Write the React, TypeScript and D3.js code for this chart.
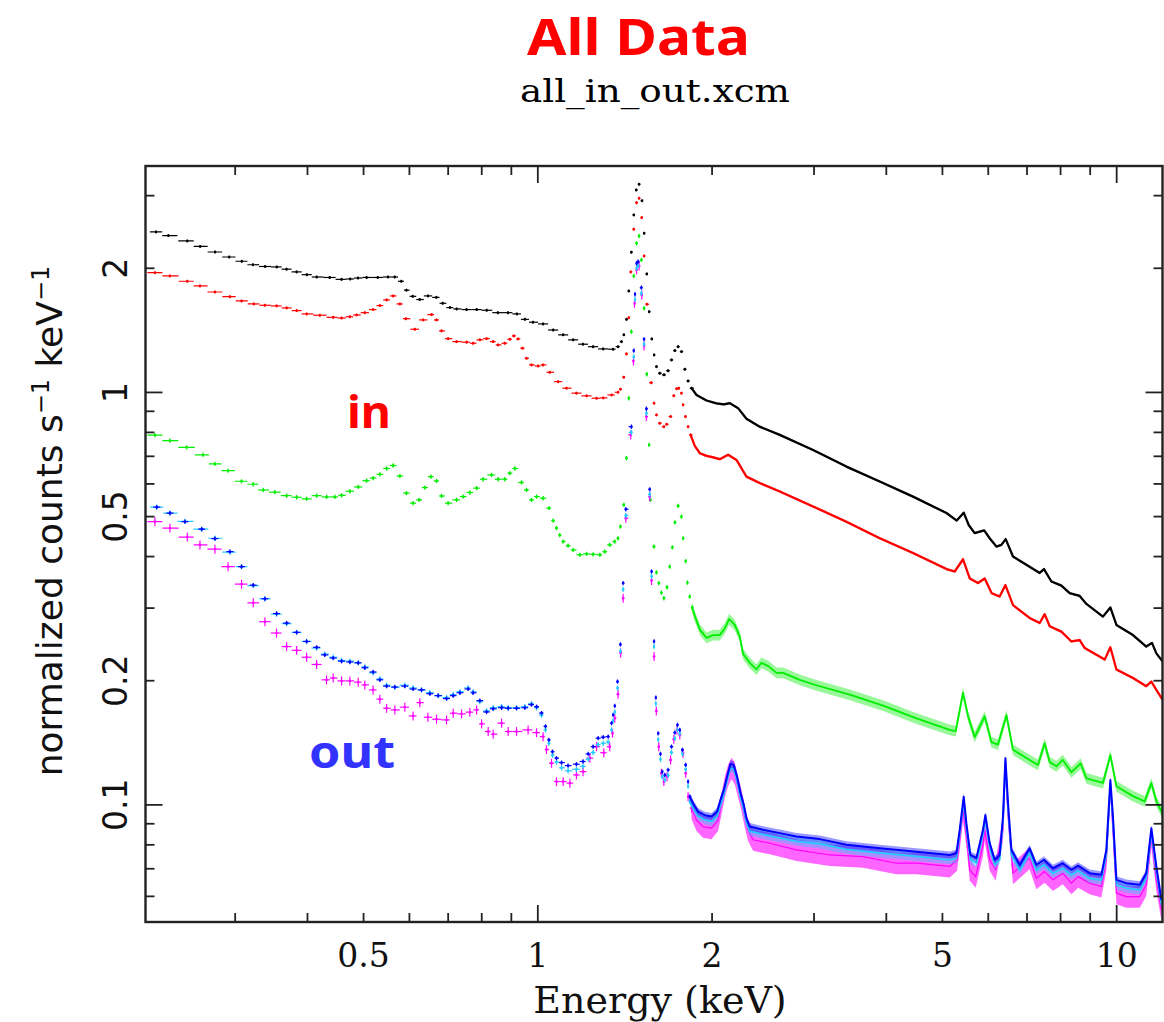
import React from "react";
import * as d3 from "d3";

type Pt = [number, number];

// ---------- data: [energy keV, normalized counts s^-1 keV^-1] ----------
const blackData: Pt[] = [
  [0.219, 2.45], [0.23, 2.4], [0.248, 2.33], [0.261, 2.26], [0.277, 2.19], [0.293, 2.13], [0.308, 2.08],
  [0.322, 2.04], [0.338, 2.02], [0.354, 2.015], [0.368, 1.99], [0.383, 1.96], [0.399, 1.93], [0.415, 1.905],
  [0.437, 1.9], [0.458, 1.88], [0.474, 1.884], [0.489, 1.894], [0.506, 1.9], [0.529, 1.9], [0.551, 1.905],
  [0.566, 1.905], [0.581, 1.86], [0.593, 1.77], [0.608, 1.71], [0.625, 1.68], [0.646, 1.714], [0.668, 1.7],
  [0.685, 1.645], [0.705, 1.606], [0.724, 1.594], [0.753, 1.588], [0.784, 1.588], [0.816, 1.582], [0.853, 1.561],
  [0.888, 1.561], [0.92, 1.55], [0.95, 1.504], [0.981, 1.48], [1.021, 1.466], [1.063, 1.417], [1.106, 1.379],
  [1.151, 1.341], [1.197, 1.309], [1.246, 1.291], [1.297, 1.275], [1.349, 1.273], [1.376, 1.291], [1.395, 1.328],
  [1.408, 1.379], [1.423, 1.504], [1.436, 1.762], [1.451, 2.188], [1.465, 2.694], [1.479, 3.097], [1.496, 3.197],
  [1.514, 2.917], [1.526, 2.432], [1.543, 1.938], [1.557, 1.57], [1.574, 1.348], [1.588, 1.233], [1.603, 1.155],
  [1.624, 1.113], [1.652, 1.103], [1.679, 1.129], [1.702, 1.199], [1.725, 1.263], [1.747, 1.291], [1.771, 1.256],
  [1.795, 1.138], [1.818, 1.066], [1.843, 1.024], [1.88, 0.986], [1.956, 0.956], [2.035, 0.941], [2.096, 0.935],
  [2.146, 0.942], [2.218, 0.916], [2.293, 0.863], [2.417, 0.826], [2.618, 0.789], [2.989, 0.725], [3.413, 0.661],
  [3.897, 0.608], [4.448, 0.559], [5.081, 0.51], [5.293, 0.489], [5.442, 0.511], [5.551, 0.477], [5.684, 0.456],
  [5.904, 0.463], [6.034, 0.443], [6.197, 0.423], [6.322, 0.427], [6.431, 0.441], [6.621, 0.4], [6.982, 0.382],
  [7.362, 0.365], [7.489, 0.373], [7.714, 0.348], [8.027, 0.34], [8.294, 0.326], [8.633, 0.321], [8.866, 0.307],
  [9.469, 0.286], [9.752, 0.301], [9.99, 0.273], [10.67, 0.258], [11.25, 0.242], [11.51, 0.247], [11.71, 0.233],
  [12.0, 0.223],
];

const redData: Pt[] = [
  [0.218, 1.951], [0.2314, 1.916], [0.248, 1.86], [0.2608, 1.812], [0.2768, 1.752], [0.2938, 1.707], [0.3077, 1.667],
  [0.3232, 1.639], [0.3377, 1.627], [0.3537, 1.621], [0.3681, 1.603], [0.3831, 1.579], [0.3986, 1.55], [0.4202, 1.539],
  [0.4431, 1.521], [0.4581, 1.515], [0.4735, 1.526], [0.4863, 1.541], [0.5024, 1.561], [0.5193, 1.588], [0.5334, 1.624],
  [0.5479, 1.676], [0.5624, 1.714], [0.5776, 1.639], [0.5916, 1.509], [0.6132, 1.423], [0.6337, 1.499], [0.6552, 1.544],
  [0.6683, 1.499], [0.6818, 1.41], [0.7, 1.35], [0.7238, 1.328], [0.7532, 1.324], [0.7731, 1.316], [0.794, 1.341],
  [0.8155, 1.35], [0.8374, 1.328], [0.854, 1.304], [0.877, 1.316], [0.8947, 1.346], [0.909, 1.371], [0.9245, 1.348],
  [0.941, 1.28], [0.9561, 1.21], [0.9752, 1.166], [1.001, 1.159], [1.021, 1.166], [1.049, 1.119], [1.084, 1.062],
  [1.121, 1.024], [1.166, 0.996], [1.214, 0.981], [1.263, 0.968], [1.297, 0.97], [1.341, 0.986], [1.376, 1.001],
  [1.389, 1.018], [1.408, 1.089], [1.423, 1.24], [1.436, 1.518], [1.447, 1.96], [1.465, 2.487], [1.481, 2.885],
  [1.496, 2.956], [1.512, 2.654], [1.526, 2.142], [1.543, 1.636], [1.571, 1.056], [1.588, 0.942], [1.603, 0.882],
  [1.624, 0.842], [1.651, 0.826], [1.669, 0.837], [1.696, 0.874], [1.718, 0.982], [1.737, 1.021], [1.752, 1.024],
  [1.771, 0.996], [1.782, 0.933], [1.799, 0.874], [1.818, 0.826], [1.836, 0.789], [1.867, 0.742], [1.905, 0.712],
  [1.956, 0.702], [2.009, 0.696], [2.062, 0.689], [2.132, 0.706], [2.204, 0.686], [2.293, 0.625], [2.417, 0.603],
  [2.618, 0.575], [2.989, 0.529], [3.413, 0.486], [3.897, 0.443], [4.448, 0.408], [5.081, 0.373], [5.251, 0.368],
  [5.427, 0.394], [5.574, 0.354], [5.76, 0.345], [5.916, 0.354], [6.083, 0.326], [6.279, 0.32], [6.424, 0.341],
  [6.621, 0.305], [7.073, 0.284], [7.362, 0.276], [7.51, 0.29], [7.661, 0.271], [8.027, 0.263], [8.353, 0.249],
  [8.633, 0.251], [8.806, 0.24], [9.535, 0.225], [9.752, 0.241], [9.99, 0.213], [10.67, 0.203], [11.25, 0.194],
  [11.48, 0.199], [11.71, 0.19], [12.0, 0.18],
];

const greenData: Pt[] = [
  [0.218, 0.788], [0.2314, 0.764], [0.2474, 0.736], [0.2639, 0.706], [0.2768, 0.671], [0.2917, 0.646], [0.3077, 0.609],
  [0.3224, 0.599], [0.3354, 0.58], [0.3513, 0.573], [0.3681, 0.562], [0.3831, 0.557], [0.3986, 0.552], [0.4148, 0.562],
  [0.4315, 0.558], [0.446, 0.558], [0.4581, 0.563], [0.4735, 0.576], [0.4895, 0.59], [0.5059, 0.611], [0.5193, 0.62],
  [0.5334, 0.633], [0.5479, 0.654], [0.5624, 0.665], [0.5776, 0.627], [0.593, 0.57], [0.6088, 0.539], [0.6237, 0.549],
  [0.6381, 0.588], [0.6535, 0.625], [0.6683, 0.61], [0.6818, 0.561], [0.7, 0.539], [0.7238, 0.549], [0.743, 0.559],
  [0.7631, 0.572], [0.7839, 0.586], [0.8045, 0.616], [0.8318, 0.631], [0.854, 0.616], [0.877, 0.616], [0.8947, 0.637],
  [0.9127, 0.654], [0.9372, 0.605], [0.9561, 0.58], [0.9752, 0.549], [0.995, 0.559], [1.021, 0.554], [1.046, 0.524],
  [1.063, 0.489], [1.077, 0.469], [1.091, 0.451], [1.106, 0.435], [1.128, 0.425], [1.151, 0.415], [1.182, 0.404],
  [1.214, 0.406], [1.246, 0.405], [1.28, 0.404], [1.305, 0.411], [1.331, 0.427], [1.358, 0.435], [1.376, 0.443],
  [1.389, 0.473], [1.408, 0.534], [1.423, 0.693], [1.436, 0.968], [1.451, 1.404], [1.465, 1.916], [1.481, 2.3],
  [1.496, 2.395], [1.51, 2.096], [1.526, 1.6], [1.543, 1.107], [1.557, 0.746], [1.564, 0.549], [1.588, 0.423],
  [1.603, 0.366], [1.618, 0.345], [1.635, 0.327], [1.651, 0.317], [1.672, 0.337], [1.69, 0.378], [1.708, 0.421],
  [1.725, 0.484], [1.747, 0.531], [1.771, 0.5], [1.782, 0.443], [1.801, 0.39], [1.813, 0.346], [1.83, 0.32],
  [1.847, 0.301], [1.872, 0.284], [1.905, 0.266], [1.956, 0.254], [2.009, 0.258], [2.062, 0.258], [2.104, 0.268],
  [2.14, 0.282], [2.189, 0.273], [2.233, 0.256], [2.263, 0.232], [2.323, 0.221], [2.386, 0.213], [2.434, 0.221],
  [2.5, 0.217], [2.585, 0.209], [2.653, 0.209], [2.835, 0.201], [3.029, 0.195], [3.459, 0.185], [3.949, 0.174],
  [4.51, 0.162], [5.148, 0.152], [5.272, 0.151], [5.427, 0.187], [5.537, 0.164], [5.684, 0.146], [5.916, 0.164],
  [6.075, 0.142], [6.237, 0.14], [6.45, 0.165], [6.621, 0.136], [7.073, 0.1285], [7.311, 0.125], [7.51, 0.141],
  [7.661, 0.127], [7.867, 0.124], [8.07, 0.1285], [8.353, 0.12], [8.665, 0.126], [8.866, 0.116], [9.469, 0.113],
  [9.752, 0.132], [9.99, 0.111], [10.67, 0.105], [11.18, 0.102], [11.48, 0.113], [11.71, 0.102], [12.0, 0.0954],
];

const blueData: Pt[] = [
  [0.2196, 0.527], [0.2314, 0.51], [0.2457, 0.486], [0.2626, 0.466], [0.2768, 0.442], [0.2938, 0.411], [0.3077, 0.378],
  [0.3224, 0.341], [0.3377, 0.316], [0.3537, 0.291], [0.3681, 0.276], [0.3831, 0.262], [0.3986, 0.249], [0.4148, 0.241],
  [0.4285, 0.231], [0.4431, 0.227], [0.4581, 0.223], [0.4735, 0.222], [0.4895, 0.221], [0.5024, 0.215], [0.5193, 0.21],
  [0.5334, 0.201], [0.5479, 0.194], [0.5662, 0.193], [0.5891, 0.194], [0.6088, 0.191], [0.6296, 0.19], [0.6508, 0.186],
  [0.6728, 0.184], [0.6955, 0.181], [0.7142, 0.184], [0.7333, 0.187], [0.7579, 0.191], [0.7731, 0.187], [0.794, 0.179],
  [0.8155, 0.168], [0.8374, 0.171], [0.8658, 0.172], [0.8887, 0.1715], [0.9188, 0.1715], [0.9496, 0.172], [0.9752, 0.175],
  [0.995, 0.173], [1.015, 0.167], [1.031, 0.155], [1.045, 0.1438], [1.06, 0.1346], [1.077, 0.1298], [1.099, 0.1266],
  [1.128, 0.1245], [1.166, 0.1255], [1.197, 0.1274], [1.222, 0.1329], [1.246, 0.1384], [1.271, 0.1451], [1.297, 0.1459],
  [1.323, 0.1464], [1.341, 0.1578], [1.349, 0.1653], [1.358, 0.1738], [1.373, 0.199], [1.389, 0.2449], [1.404, 0.345],
  [1.419, 0.521], [1.451, 0.826], [1.465, 1.263], [1.472, 1.73], [1.481, 2.057], [1.49, 2.075], [1.51, 1.795],
  [1.526, 1.346], [1.54, 0.913], [1.561, 0.582], [1.572, 0.368], [1.588, 0.249], [1.599, 0.182], [1.614, 0.149],
  [1.629, 0.1329], [1.64, 0.1204], [1.657, 0.1182], [1.679, 0.1216], [1.702, 0.1384], [1.725, 0.1497], [1.743, 0.1563],
  [1.759, 0.152], [1.777, 0.136], [1.801, 0.125], [1.818, 0.1139], [1.83, 0.1047], [1.854, 0.1009], [1.892, 0.0963],
  [1.943, 0.0944], [1.995, 0.0937], [2.04, 0.0963], [2.068, 0.1028], [2.096, 0.1088], [2.123, 0.1171], [2.151, 0.1257],
  [2.18, 0.125], [2.209, 0.1171], [2.239, 0.1071], [2.269, 0.1], [2.293, 0.0928], [2.323, 0.0886], [2.449, 0.087],
  [2.618, 0.0854], [2.798, 0.0838], [3.069, 0.0826], [3.413, 0.08], [3.897, 0.0785], [4.51, 0.077], [5.148, 0.0756],
  [5.286, 0.0763], [5.356, 0.087], [5.442, 0.1047], [5.5, 0.0903], [5.588, 0.0756], [5.724, 0.0743], [5.876, 0.087],
  [5.932, 0.0945], [6.034, 0.0808], [6.156, 0.0736], [6.279, 0.0756], [6.362, 0.0937], [6.424, 0.1298], [6.491, 0.1009],
  [6.579, 0.0778], [6.8, 0.0715], [7.073, 0.0785], [7.265, 0.0715], [7.489, 0.0736], [7.762, 0.0702], [8.07, 0.0722],
  [8.353, 0.0696], [8.577, 0.0712], [8.983, 0.0683], [9.41, 0.0677], [9.598, 0.0778], [9.752, 0.1149], [9.854, 0.0937],
  [9.99, 0.0658], [10.39, 0.0646], [10.96, 0.064], [11.25, 0.0683], [11.48, 0.0878], [11.71, 0.0709], [11.95, 0.0588],
];

const cyanData: Pt[] = [
  [0.2196, 0.527], [0.2314, 0.51], [0.2457, 0.487], [0.2626, 0.466], [0.2768, 0.443], [0.2938, 0.41], [0.3077, 0.378],
  [0.3224, 0.34], [0.3377, 0.316], [0.3537, 0.29], [0.3681, 0.275], [0.3831, 0.262], [0.3986, 0.249], [0.4148, 0.24],
  [0.4285, 0.232], [0.4431, 0.228], [0.4581, 0.224], [0.4735, 0.223], [0.4895, 0.221], [0.5024, 0.216], [0.5193, 0.209],
  [0.5334, 0.202], [0.5479, 0.195], [0.5662, 0.193], [0.5891, 0.195], [0.6088, 0.192], [0.6296, 0.19], [0.6508, 0.187],
  [0.6728, 0.184], [0.6955, 0.182], [0.7142, 0.185], [0.7333, 0.188], [0.7579, 0.192], [0.7731, 0.188], [0.794, 0.178],
  [0.8155, 0.169], [0.8374, 0.172], [0.8658, 0.173], [0.8887, 0.172], [0.9188, 0.172], [0.9496, 0.173], [0.9752, 0.176],
  [0.995, 0.172], [1.015, 0.165], [1.031, 0.152], [1.045, 0.141], [1.06, 0.132], [1.077, 0.127], [1.099, 0.123],
  [1.128, 0.121], [1.166, 0.122], [1.197, 0.124], [1.222, 0.129], [1.246, 0.134], [1.271, 0.14], [1.297, 0.141],
  [1.323, 0.142], [1.341, 0.152], [1.349, 0.16], [1.358, 0.168], [1.373, 0.192], [1.389, 0.236], [1.404, 0.333],
  [1.419, 0.503], [1.451, 0.8], [1.465, 1.22], [1.472, 1.68], [1.481, 2.0], [1.49, 2.03], [1.51, 1.74],
  [1.526, 1.31], [1.54, 0.89], [1.561, 0.566], [1.572, 0.358], [1.588, 0.242], [1.599, 0.176], [1.614, 0.144],
  [1.629, 0.129], [1.64, 0.117], [1.657, 0.115], [1.679, 0.118], [1.702, 0.134], [1.725, 0.145], [1.743, 0.152],
  [1.759, 0.149], [1.777, 0.133], [1.801, 0.122], [1.818, 0.111], [1.83, 0.102], [1.854, 0.0985], [1.892, 0.094],
  [1.943, 0.092], [1.995, 0.0912], [2.04, 0.094], [2.068, 0.1], [2.096, 0.1062], [2.123, 0.1145], [2.151, 0.123],
  [2.18, 0.1222], [2.209, 0.1145], [2.239, 0.1045], [2.269, 0.0975], [2.293, 0.0905], [2.323, 0.0864], [2.449, 0.0848],
  [2.618, 0.0832], [2.798, 0.0816], [3.069, 0.0804], [3.413, 0.078], [3.897, 0.0765], [4.51, 0.075], [5.148, 0.0736],
  [5.286, 0.0743], [5.356, 0.085], [5.442, 0.1022], [5.5, 0.088], [5.588, 0.0736], [5.724, 0.0723], [5.876, 0.0848],
  [5.932, 0.0922], [6.034, 0.0788], [6.156, 0.0716], [6.279, 0.0736], [6.362, 0.0915], [6.424, 0.1268], [6.491, 0.0985],
  [6.579, 0.0758], [6.8, 0.0695], [7.073, 0.0765], [7.265, 0.0695], [7.489, 0.0716], [7.762, 0.0682], [8.07, 0.0702],
  [8.353, 0.0676], [8.577, 0.0692], [8.983, 0.0663], [9.41, 0.0657], [9.598, 0.0758], [9.752, 0.1122], [9.854, 0.0915],
  [9.99, 0.064], [10.39, 0.0628], [10.96, 0.0622], [11.25, 0.0665], [11.48, 0.0858], [11.71, 0.069], [11.95, 0.0572],
];

const magentaData: Pt[] = [
  [0.218, 0.486], [0.2314, 0.469], [0.248, 0.446], [0.2608, 0.427], [0.2768, 0.417], [0.2917, 0.378], [0.3077, 0.343],
  [0.3224, 0.309], [0.3377, 0.278], [0.3537, 0.261], [0.3681, 0.242], [0.3831, 0.237], [0.3986, 0.228], [0.4148, 0.219],
  [0.4315, 0.201], [0.4431, 0.203], [0.4581, 0.1998], [0.4735, 0.1998], [0.4895, 0.1984], [0.5024, 0.1954], [0.5193, 0.19],
  [0.5334, 0.1804], [0.5479, 0.1715], [0.5662, 0.1699], [0.5891, 0.1725], [0.6088, 0.1643], [0.6254, 0.177], [0.6457, 0.1631],
  [0.6683, 0.1613], [0.6955, 0.1607], [0.7142, 0.1668], [0.7383, 0.1662], [0.7631, 0.1678], [0.7839, 0.1699], [0.7995, 0.1572],
  [0.8209, 0.1506], [0.8374, 0.1484], [0.8658, 0.1578], [0.8887, 0.1506], [0.9188, 0.1506], [0.9621, 0.152], [0.995, 0.1497],
  [1.021, 0.1464], [1.035, 0.1362], [1.056, 0.1262], [1.077, 0.1139], [1.106, 0.1139], [1.136, 0.1129], [1.166, 0.1182],
  [1.197, 0.1204], [1.23, 0.1298], [1.263, 0.1384], [1.3, 0.1338], [1.331, 0.1384], [1.346, 0.1492], [1.358, 0.1622],
  [1.376, 0.1855], [1.39, 0.2335], [1.404, 0.317], [1.419, 0.4955], [1.447, 0.789], [1.463, 1.192], [1.469, 1.645],
  [1.481, 1.982], [1.496, 2.026], [1.512, 1.723], [1.526, 1.296], [1.54, 0.874], [1.561, 0.559], [1.572, 0.35],
  [1.588, 0.229], [1.602, 0.169], [1.618, 0.1384], [1.635, 0.1193], [1.651, 0.1139], [1.672, 0.1171], [1.696, 0.1285],
  [1.718, 0.1443], [1.74, 0.152], [1.759, 0.1478], [1.782, 0.1334], [1.801, 0.1193], [1.818, 0.1047], [1.843, 0.0982],
  [1.88, 0.0919], [1.929, 0.0886], [1.995, 0.0878], [2.048, 0.0919], [2.077, 0.1009], [2.104, 0.1107], [2.132, 0.1182],
  [2.161, 0.1227], [2.189, 0.1193], [2.218, 0.1107], [2.248, 0.1028], [2.278, 0.0937], [2.308, 0.087], [2.354, 0.0823],
  [2.516, 0.0807], [2.798, 0.0778], [3.194, 0.0756], [3.647, 0.0749], [4.164, 0.0722], [4.51, 0.0722], [5.148, 0.0709],
  [5.3, 0.0736], [5.356, 0.0823], [5.427, 0.0972], [5.5, 0.0845], [5.574, 0.0696], [5.707, 0.067], [5.876, 0.08],
  [5.916, 0.087], [6.034, 0.0736], [6.18, 0.0696], [6.362, 0.087], [6.424, 0.1239], [6.491, 0.0945], [6.621, 0.0683],
  [7.073, 0.0743], [7.265, 0.0664], [7.51, 0.0689], [7.762, 0.0658], [8.07, 0.0683], [8.353, 0.0646], [8.577, 0.067],
  [8.983, 0.0646], [9.41, 0.0634], [9.598, 0.0736], [9.752, 0.1107], [9.854, 0.087], [9.99, 0.0611], [10.39, 0.0599],
  [10.96, 0.0599], [11.25, 0.064], [11.48, 0.0838], [11.71, 0.0658], [11.95, 0.0557],
];

// fractional 1-sigma errors (low-energy bins / dense high-energy channels)
const seriesNames = ["black", "red", "green", "magenta", "cyan", "blue"];
const seriesColors = ["#000000", "#ff0000", "#00ee00", "#ff00ff", "#22ccff", "#0000ff"];
const relErrLow = [0.006, 0.007, 0.012, 0.025, 0.015, 0.012];
const relErrHigh = [0.006, 0.007, 0.03, 0.06, 0.025, 0.02];
const seriesData: Pt[][] = [blackData, redData, greenData, magentaData, cyanData, blueData];

// axes
const xDomain: [number, number] = [0.21, 12];
const yDomain: [number, number] = [0.052, 3.54];
const xMajorTicks = [1, 10];
const xMinorTicks = [0.3, 0.4, 0.5, 0.6, 0.7, 0.8, 0.9, 2, 3, 4, 5, 6, 7, 8, 9];
const xTickLabels = [0.5, 1, 2, 5, 10];
const yMajorTicks = [0.1, 1];
const yMinorTicks = [0.06, 0.07, 0.08, 0.09, 0.2, 0.3, 0.4, 0.5, 0.6, 0.7, 0.8, 0.9, 2, 3];
const yTickLabels = [0.1, 0.2, 0.5, 1, 2];

const DENSE_FROM = 1.85;
const barCap = [9, 9, 9, 9, 9, 3.5];
const lineWidths = [2.3, 2.3, 1.8, 1.2, 1.8, 2];

const L = 145.5, R = 1162.5, T = 166, B = 922;

export default function App() {
  const x = d3.scaleLog().domain(xDomain).range([L, R]);
  const y = d3.scaleLog().domain(yDomain).range([B, T]);

  const renderSeries = (data: Pt[], si: number) => {
    const color = seriesColors[si];
    const eL = relErrLow[si];
    const eH = relErrHigh[si];
    const cap = barCap[si];
    const crosses: React.ReactNode[] = [];
    let firstDense = data.findIndex((d) => d[0] >= DENSE_FROM);
    if (firstDense < 0) firstDense = data.length;
    for (let i = 0; i < firstDense; i++) {
      const [e, v] = data[i];
      const cx = x(e);
      const cy = y(v);
      const prevX = i > 0 ? x(data[i - 1][0]) : null;
      const nextX = i < data.length - 1 ? x(data[i + 1][0]) : null;
      let hl = prevX !== null ? (cx - prevX) / 2 : nextX !== null ? (nextX - cx) / 2 : 4;
      let hr = nextX !== null ? (nextX - cx) / 2 : hl;
      hl = Math.min(hl, cap);
      hr = Math.min(hr, cap);
      const y0 = y(v * (1 + eL));
      const y1 = y(v * (1 - eL));
      crosses.push(
        <g key={`${si}-${i}`}>
          <line x1={cx - hl} x2={cx + hr} y1={cy} y2={cy} stroke={color} strokeWidth={1.2} />
          <line x1={cx} x2={cx} y1={Math.min(y0, cy - 1.5)} y2={Math.max(y1, cy + 1.5)} stroke={color} strokeWidth={1.2} />
          <rect x={cx - 1.1} y={cy - 1.1} width={2.2} height={2.2} fill={color} />
        </g>
      );
    }
    const dense = data.slice(Math.max(0, firstDense - 1));
    const line = d3
      .line<Pt>()
      .x((d) => x(d[0]))
      .y((d) => y(d[1]));
    const area = d3
      .area<Pt>()
      .x((d) => x(d[0]))
      .y0((d) => y(d[1] * (1 - eH)))
      .y1((d) => y(d[1] * (1 + eH)));
    return (
      <g key={seriesNames[si]}>
        {crosses}
        <path d={area(dense) || ""} fill={color} fillOpacity={si === 3 ? 0.6 : 0.4} stroke="none" />
        <path d={line(dense) || ""} fill="none" stroke={color} strokeWidth={lineWidths[si]} strokeLinejoin="round" />
      </g>
    );
  };

  const tickStroke = "#222";
  const tickW = 1.8;

  return (
    <svg
      width={1164}
      height={1022}
      style={{ position: "absolute", left: 0, top: 0, background: "#fff", display: "block" }}
    >
      <rect x={0} y={0} width={1164} height={1022} fill="#fff" />
      <defs>
        <clipPath id="plotClip">
          <rect x={L} y={T} width={R - L} height={B - T} />
        </clipPath>
      </defs>

      {/* titles */}
      <text
        x={527}
        y={55}
        fill="#ff0000"
        fontFamily="'Noto Sans', 'DejaVu Sans', sans-serif"
        fontWeight={700}
        fontSize={50}
        textLength={223}
        lengthAdjust="spacingAndGlyphs"
      >
        All Data
      </text>
      <text
        x={520}
        y={102}
        fill="#000"
        fontFamily="'DejaVu Serif', serif"
        fontSize={31}
        textLength={270}
        lengthAdjust="spacingAndGlyphs"
      >
        all_in_out.xcm
      </text>

      {/* data */}
      <g clipPath="url(#plotClip)">{seriesData.map((d, i) => renderSeries(d, i))}</g>

      {/* frame */}
      <rect x={L} y={T} width={R - L} height={B - T} fill="none" stroke={tickStroke} strokeWidth={2.4} />

      {/* x ticks */}
      {xMajorTicks.concat(xMinorTicks).map((t) => {
        const len = xMajorTicks.includes(t) ? 17 : 9;
        const px = x(t);
        return (
          <g key={`xt${t}`}>
            <line x1={px} x2={px} y1={B} y2={B - len} stroke={tickStroke} strokeWidth={tickW} />
            <line x1={px} x2={px} y1={T} y2={T + len} stroke={tickStroke} strokeWidth={tickW} />
          </g>
        );
      })}
      {/* y ticks */}
      {yMajorTicks.concat(yMinorTicks).map((t) => {
        const len = yMajorTicks.includes(t) ? 17 : 9;
        const py = y(t);
        return (
          <g key={`yt${t}`}>
            <line x1={L} x2={L + len} y1={py} y2={py} stroke={tickStroke} strokeWidth={tickW} />
            <line x1={R} x2={R - len} y1={py} y2={py} stroke={tickStroke} strokeWidth={tickW} />
          </g>
        );
      })}

      {/* x tick labels */}
      {xTickLabels.map((t) => (
        <text
          key={`xl${t}`}
          x={x(t)}
          y={967}
          textAnchor="middle"
          fontFamily="'DejaVu Serif', serif"
          fontSize={33}
          fill="#111"
        >
          {String(t)}
        </text>
      ))}
      {/* y tick labels */}
      {yTickLabels.map((t) => (
        <text
          key={`yl${t}`}
          transform={`translate(127,${y(t)}) rotate(-90)`}
          textAnchor="middle"
          fontFamily="'DejaVu Sans', sans-serif"
          fontSize={33}
          fill="#111"
        >
          {String(t)}
        </text>
      ))}

      {/* axis labels */}
      <text x={660} y={1013} textAnchor="middle" fontFamily="'DejaVu Serif', serif" fontSize={38} fill="#111">
        Energy (keV)
      </text>
      <text
        transform="translate(62,521) rotate(-90)"
        textAnchor="middle"
        fontFamily="'DejaVu Sans', sans-serif"
        fontSize={36}
        fill="#111"
      >
        normalized counts s
        <tspan dy={-13} fontSize={24}>
          −1
        </tspan>
        <tspan dy={13}> keV</tspan>
        <tspan dy={-13} fontSize={24}>
          −1
        </tspan>
      </text>

      {/* annotations */}
      <text x={347} y={428} fill="#ff0000" fontFamily="'Noto Sans', sans-serif" fontWeight={700} fontSize={44}
        textLength={44} lengthAdjust="spacingAndGlyphs">
        in
      </text>
      <text x={309} y={768} fill="#3333ff" fontFamily="'Noto Sans', sans-serif" fontWeight={700} fontSize={44}
        textLength={86} lengthAdjust="spacingAndGlyphs">
        out
      </text>
    </svg>
  );
}
